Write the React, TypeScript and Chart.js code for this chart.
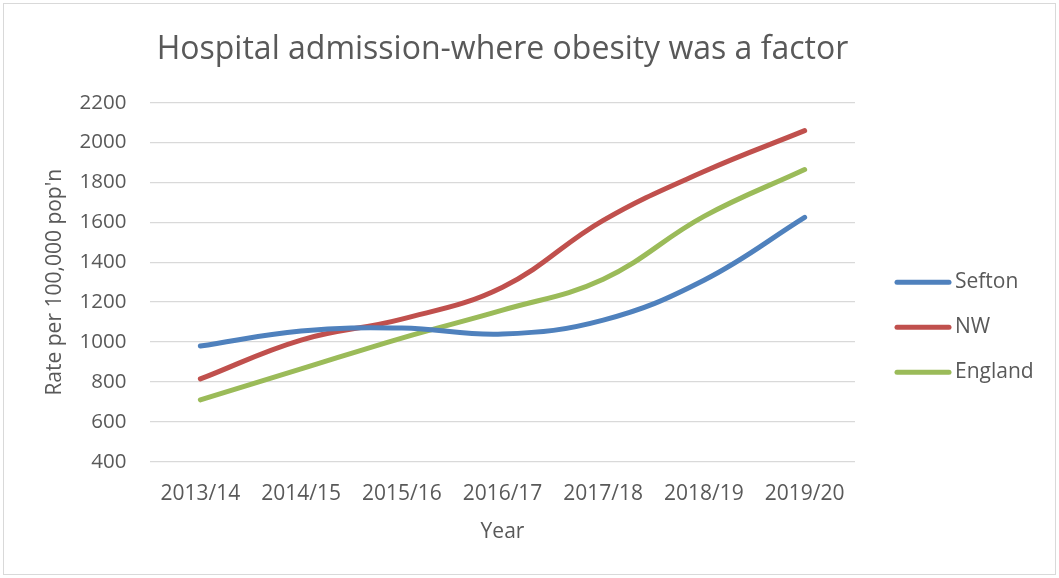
import React, { useEffect, useRef } from "react";
import { Chart, registerables } from "chart.js";

Chart.register(...registerables);

const years = ["2013/14", "2014/15", "2015/16", "2016/17", "2017/18", "2018/19", "2019/20"];
const sefton = [980, 1055, 1070, 1040, 1110, 1310, 1625];
const nw = [815, 1010, 1115, 1275, 1610, 1855, 2060];
const england = [710, 865, 1020, 1160, 1315, 1630, 1865];
const seriesNames = ["Sefton", "NW", "England"];
const seriesColors = ["#4F81BD", "#C0504D", "#9BBB59"];

const TEXT = "#595959";
const FONT = "'Open Sans', 'Noto Sans', sans-serif";

const sideLegend = {
  id: "sideLegend",
  afterDraw(chart: any) {
    const ctx = chart.ctx;
    const area = chart.chartArea;
    const midY = (area.top + area.bottom) / 2 + 45;
    const x0 = area.right + 40;
    ctx.save();
    chart.data.datasets.forEach((ds: any, i: number) => {
      const y = midY + (i - 1) * 45;
      ctx.strokeStyle = ds.borderColor;
      ctx.lineWidth = 5;
      ctx.lineCap = "round";
      ctx.beginPath();
      ctx.moveTo(x0 + 2, y);
      ctx.lineTo(x0 + 54, y);
      ctx.stroke();
      ctx.fillStyle = TEXT;
      ctx.font = `21px ${FONT}`;
      ctx.textAlign = "left";
      ctx.textBaseline = "middle";
      ctx.fillText(ds.label, x0 + 60, y);
    });
    ctx.restore();
  },
};

const frame = {
  id: "frame",
  beforeDraw(chart: any) {
    const ctx = chart.ctx;
    ctx.save();
    ctx.fillStyle = "#ffffff";
    ctx.fillRect(0, 0, chart.width, chart.height);
    ctx.strokeStyle = "#d9d9d9";
    ctx.lineWidth = 1;
    ctx.strokeRect(3.5, 3.5, chart.width - 7, chart.height - 7);
    ctx.restore();
  },
};

export default function App() {
  const ref = useRef<HTMLCanvasElement>(null);

  useEffect(() => {
    if (!ref.current) return;
    const values = [sefton, nw, england];
    const chart = new Chart(ref.current, {
      type: "line",
      data: {
        labels: years,
        datasets: values.map((v, i) => ({
          label: seriesNames[i],
          data: v,
          borderColor: seriesColors[i],
          backgroundColor: seriesColors[i],
          borderWidth: 5,
          borderCapStyle: "round" as const,
          borderJoinStyle: "round" as const,
          pointRadius: 0,
          tension: 0.4,
          fill: false,
        })),
      },
      options: {
        animation: false,
        responsive: false,
        layout: { padding: { left: 0, right: 204, top: 0, bottom: 0 } },
        plugins: {
          legend: { display: false },
          tooltip: { enabled: false },
          title: {
            display: true,
            fullSize: false,
            text: "Hospital admission-where obesity was a factor",
            color: TEXT,
            font: { family: FONT, size: 32, weight: "normal" as const },
            padding: { top: 31, bottom: 33.3 },
          },
        },
        scales: {
          x: {
            type: "category",
            offset: true,
            grid: { display: false, drawTicks: false },
            border: { display: false },
            ticks: {
              color: TEXT,
              font: { family: FONT, size: 21 },
              padding: 19.5,
              maxRotation: 0,
            },
            title: {
              display: true,
              text: "Year",
              color: TEXT,
              font: { family: FONT, size: 21 },
              padding: { top: 10, bottom: 33 },
            },
            afterFit(scale: any) {
              scale.height = 116.3;
            },
          },
          y: {
            min: 400,
            max: 2200,
            grid: { color: "#d9d9d9", lineWidth: 1.3, drawTicks: false },
            border: { display: false },
            ticks: {
              stepSize: 200,
              color: TEXT,
              font: { family: FONT, size: 20.5 },
              padding: 23.5,
              callback: (value: any) => String(value),
            },
            title: {
              display: true,
              text: "Rate per 100,000 pop'n",
              color: TEXT,
              font: { family: FONT, size: 21 },
              padding: { top: 42, bottom: 10 },
            },
            afterFit(scale: any) {
              scale.width = 150;
            },
          },
        },
      },
      plugins: [frame, sideLegend],
    });
    return () => chart.destroy();
  }, []);

  return (
    <div style={{ position: "absolute", left: 0, top: 0, width: 1059, height: 578, background: "#fff" }}>
      <canvas ref={ref} width={1059} height={578} style={{ display: "block" }} />
    </div>
  );
}
